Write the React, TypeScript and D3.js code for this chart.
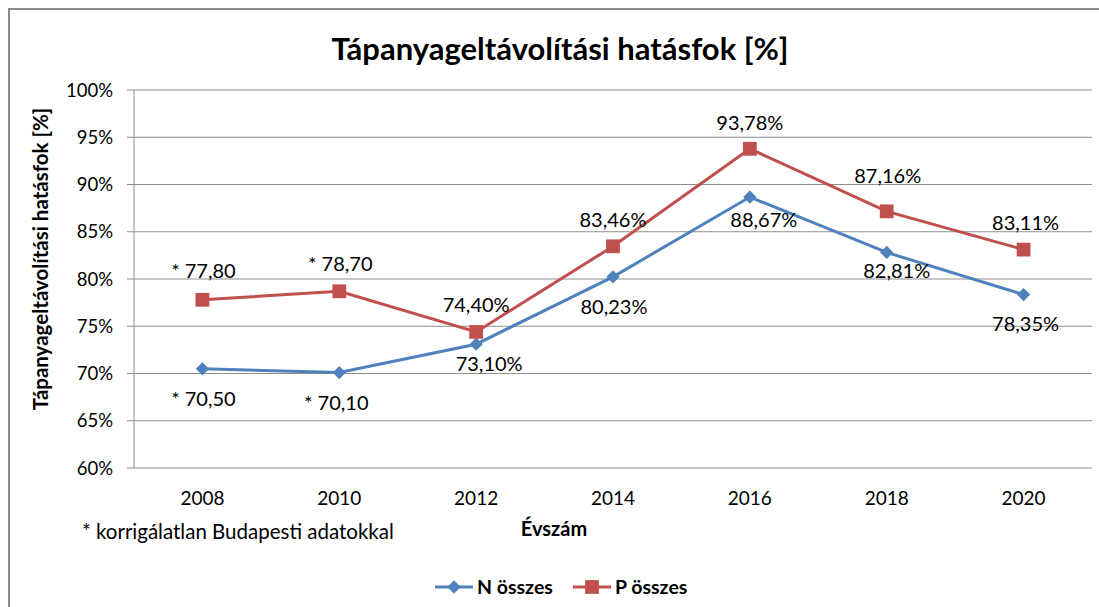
import React from "react"
import { scaleBand, scaleLinear, line, format, symbol, symbolSquare } from "d3"

const years = ["2008", "2010", "2012", "2014", "2016", "2018", "2020"]
const nValues = [70.5, 70.1, 73.1, 80.23, 88.67, 82.81, 78.35]
const pValues = [77.8, 78.7, 74.4, 83.46, 93.78, 87.16, 83.11]
// first two years use uncorrected Budapest data (marked with *)
const uncorrected = [true, true, false, false, false, false, false]
const yTicks = [60, 65, 70, 75, 80, 85, 90, 95, 100]

// label nudges in px from the marker (Excel placed them by hand)
const nLabelShift = [[1, 30], [-3, 30], [13, 20], [1, 30], [14, 23], [10, 18], [2, 29]]
const pLabelShift = [[1, -29], [1, -27], [0, -27], [0, -27], [0, -26], [1, -36], [2, -27]]

const blue = "#4F81BD"
const red = "#C0504D"
const font = "Lato, 'DejaVu Sans', sans-serif"

const fmt = format(".2f")
function labelText(v, i) {
  const s = fmt(v).replace(".", ",")
  return uncorrected[i] ? "* " + s : s + "%"
}

export default function App() {
  const left = 134
  const right = 1092
  const top = 90
  const bottom = 468

  const x = scaleBand().domain(years).range([left, right]).padding(0)
  const cx = (yr) => x(yr) + x.bandwidth() / 2
  const y = scaleLinear().domain([60, 100]).range([bottom, top])

  const path = line()
    .x((d, i) => cx(years[i]))
    .y((d) => y(d))

  // Excel diamond = square turned 45deg
  const diamond = symbol().type(symbolSquare).size(88)()
  const square = symbol().type(symbolSquare).size(190)()

  const series = [
    { name: "N összes", values: nValues, color: blue, marker: diamond, rot: 45, shift: nLabelShift },
    { name: "P összes", values: pValues, color: red, marker: square, rot: 0, shift: pLabelShift },
  ]

  return (
    <svg
      width={1099}
      height={607}
      style={{ position: "absolute", left: 0, top: 0, background: "#fff" }}
      fontFamily={font}
    >
      <rect x={9} y={9} width={1100} height={610} fill="#fff" stroke="#8a8a8a" strokeWidth={2} />

      <text x={560} y={60} textAnchor="middle" fontSize={31} fontWeight="bold" fill="#000">
        Tápanyageltávolítási hatásfok [%]
      </text>

      {/* grid + y axis */}
      {yTicks.map((t) => (
        <g key={t}>
          {t > 60 && <line x1={left} x2={right} y1={y(t)} y2={y(t)} stroke="#8e8e8e" strokeWidth={1} />}
          <line x1={left - 7} x2={left} y1={y(t)} y2={y(t)} stroke="#8e8e8e" strokeWidth={1} />
          <text x={113} y={y(t)} dy="0.36em" textAnchor="end" fontSize={18.5} fill="#000">
            {t}%
          </text>
        </g>
      ))}
      <line x1={left} x2={left} y1={top} y2={bottom} stroke="#8e8e8e" strokeWidth={1} />
      <line x1={left} x2={right} y1={bottom} y2={bottom} stroke="#b4b4b4" strokeWidth={1.5} />

      {years.map((yr) => (
        <text key={yr} x={cx(yr)} y={505} textAnchor="middle" fontSize={19} fill="#000">
          {yr}
        </text>
      ))}

      <text
        transform="translate(48,259) rotate(-90)"
        textAnchor="middle"
        fontSize={20.5}
        fontWeight="bold"
        fill="#000"
      >
        Tápanyageltávolítási hatásfok [%]
      </text>
      <text x={554} y={536} textAnchor="middle" fontSize={20} fontWeight="bold" fill="#000">
        Évszám
      </text>
      <text x={82} y={539} fontSize={20.5} fill="#000">
        * korrigálatlan Budapesti adatokkal
      </text>

      {series.map((s) => (
        <g key={s.name}>
          <path d={path(s.values)} fill="none" stroke={s.color} strokeWidth={3} />
          {s.values.map((v, i) => (
            <path
              key={i}
              d={s.marker}
              transform={`translate(${cx(years[i])},${y(v)}) rotate(${s.rot})`}
              fill={s.color}
            />
          ))}
          {s.values.map((v, i) => (
            <text
              key={"l" + i}
              x={cx(years[i]) + s.shift[i][0]}
              y={y(v) + s.shift[i][1]}
              dy="0.36em"
              textAnchor="middle"
              fontSize={20}
              fill="#000"
            >
              {labelText(v, i)}
            </text>
          ))}
        </g>
      ))}

      {/* legend */}
      {series.map((s, k) => {
        const lx = k === 0 ? 435 : 573
        return (
          <g key={"lg" + k}>
            <line x1={lx} x2={lx + 38} y1={587} y2={587} stroke={s.color} strokeWidth={3} />
            <path d={s.marker} transform={`translate(${lx + 19},587) rotate(${s.rot})`} fill={s.color} />
            <text x={lx + 42} y={587} dy="0.36em" fontSize={19.5} fontWeight="bold" fill="#000">
              {s.name}
            </text>
          </g>
        )
      })}
    </svg>
  )
}
